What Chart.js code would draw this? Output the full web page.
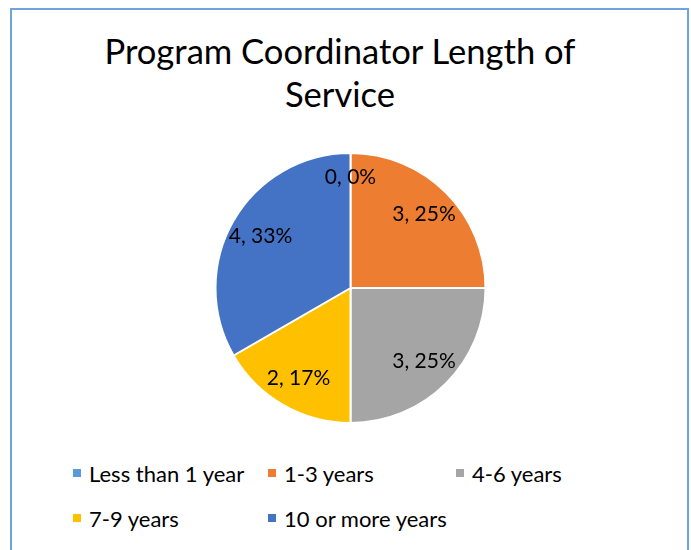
<!DOCTYPE html>
<html>
<head>
<meta charset="utf-8">
<script src="https://cdn.jsdelivr.net/npm/chart.js@4/dist/chart.umd.min.js"></script>
<style>
  html, body { margin: 0; padding: 0; background: #fff; overflow: hidden; }
  body { width: 691px; height: 550px; position: relative; font-family: Lato, "Open Sans", sans-serif; }
  #frame {
    position: absolute; left: 10px; top: 8px; width: 675px; height: 560px;
    border: 2px solid #6fa3dc;
  }
  #title {
    position: absolute; left: 0; top: 29px; width: 680px; text-align: center;
    font-size: 34.6px; line-height: 43px; color: #000;
  }
  #chart-box { position: absolute; left: 0; top: 0; width: 691px; height: 450px; }
  #legend {
    position: absolute; left: 73px; top: 460px;
    display: grid; grid-template-columns: 195px 188px 190px; row-gap: 19px;
    font-size: 22px; color: #000;
  }
  .lg-item { display: flex; align-items: center; height: 26px; white-space: nowrap; }
  .lg-box { width: 8px; height: 8px; margin-right: 8px; }
</style>
</head>
<body>
<div id="frame"></div>
<div id="title">Program Coordinator Length of<br>Service</div>
<div id="chart-box"><canvas id="pieChart" width="691" height="450"></canvas></div>
<div id="legend"></div>

<script>
const categories = ['Less than 1 year', '1-3 years', '4-6 years', '7-9 years', '10 or more years'];
const counts = [0, 3, 3, 2, 4];
const sliceColors = ['#5b9bd5', '#ed7d31', '#a5a5a5', '#ffc000', '#4472c4'];

const total = counts.reduce((a, b) => a + b, 0);

// labels like "3, 25%" drawn inside each slice
const sliceLabels = {
    id: 'sliceLabels',
    afterDatasetsDraw(chart) {
        const ctx = chart.ctx;
        const meta = chart.getDatasetMeta(0);
        ctx.save();
        ctx.font = '21px Lato';
        ctx.fillStyle = '#000';
        ctx.textAlign = 'center';
        ctx.textBaseline = 'middle';
        meta.data.forEach((arc, i) => {
            const p = arc.getProps(['x', 'y', 'startAngle', 'endAngle', 'outerRadius'], true);
            const mid = (p.startAngle + p.endAngle) / 2;
            const r = p.outerRadius * (counts[i] === 0 ? 0.82 : 0.77);
            const pct = Math.round(counts[i] / total * 100);
            ctx.fillText(`${counts[i]}, ${pct}%`, p.x + Math.cos(mid) * r, p.y + Math.sin(mid) * r);
        });
        ctx.restore();
    }
};

const ctx = document.getElementById('pieChart').getContext('2d');
new Chart(ctx, {
    type: 'pie',
    data: {
        labels: categories,
        datasets: [{
            data: counts,
            backgroundColor: sliceColors,
            borderColor: '#fff',
            borderWidth: 2
        }]
    },
    options: {
        responsive: false,
        animation: false,
        layout: { padding: { left: 10, right: 0, top: 152, bottom: 26 } },
        plugins: {
            legend: { display: false },
            tooltip: { enabled: false },
            title: { display: false }
        }
    },
    plugins: [sliceLabels]
});

// legend rows below the pie
const legend = document.getElementById('legend');
legend.innerHTML = categories.map((c, i) =>
    `<div class="lg-item"><span class="lg-box" style="background:${sliceColors[i]}"></span>${c}</div>`
).join('');
</script>
</body>
</html>
